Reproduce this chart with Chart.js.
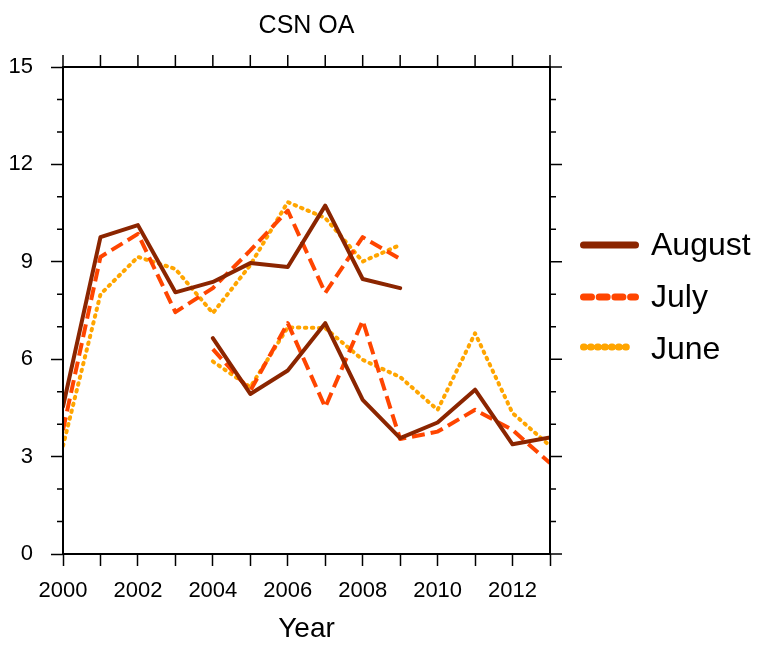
<!DOCTYPE html>
<html>
<head>
<meta charset="utf-8">
<script src="https://cdn.jsdelivr.net/npm/chart.js@4.4.1/dist/chart.umd.min.js"></script>
<style>
  html, body { margin: 0; padding: 0; background: #fff; }
  #wrap { position: relative; width: 764px; height: 645px; }
  #legend { position: absolute; left: 0; top: 0; }
  #legend text { font-family: "Liberation Sans", Arial, Helvetica, sans-serif; font-size: 32px; fill: #000; }
</style>
</head>
<body>
<div id="wrap">
  <canvas id="chart" width="764" height="645"></canvas>
  <svg id="legend" width="764" height="645">
    <line x1="583.5" y1="245" x2="635.5" y2="245" stroke="#8B2500" stroke-width="7" stroke-linecap="round"/>
    <text x="651" y="255">August</text>
    <line x1="583.5" y1="297" x2="635.5" y2="297" stroke="#FF4500" stroke-width="7" stroke-linecap="round" stroke-dasharray="8 7.7"/>
    <text x="651" y="307">July</text>
    <line x1="583.5" y1="347" x2="630.5" y2="347" stroke="#FFA500" stroke-width="7" stroke-linecap="round" stroke-dasharray="0.8 6.2"/>
    <text x="651" y="359">June</text>
  </svg>
</div>
<script>
// values
var years1 = [2000, 2001, 2002, 2003, 2004, 2005, 2006, 2007, 2008, 2009];
var years2 = [2004, 2005, 2006, 2007, 2008, 2009, 2010, 2011, 2012, 2013];

var august1 = [4.54, 9.76, 10.13, 8.06, 8.38, 8.96, 8.84, 10.73, 8.47, 8.19];
var july1   = [3.82, 9.15, 9.86, 7.45, 8.19, 9.35, 10.58, 8.04, 9.76, 9.09];
var june1   = [3.33, 8.0, 9.15, 8.78, 7.42, 8.9, 10.84, 10.35, 9.01, 9.52];

var august2 = [6.65, 4.93, 5.65, 7.11, 4.75, 3.57, 4.05, 5.06, 3.38, 3.59];
var july2   = [6.31, 5.03, 7.11, 4.52, 7.19, 3.54, 3.77, 4.44, 3.82, 2.8];
var june2   = [5.93, 5.14, 6.98, 6.96, 5.98, 5.45, 4.44, 6.8, 4.34, 3.33];

var yearTicks = [2000, 2001, 2002, 2003, 2004, 2005, 2006, 2007, 2008, 2009, 2010, 2011, 2012, 2013];

function pts(xs, ys) {
    return xs.map(function (x, i) { return { x: x, y: ys[i] }; });
}

var styles = {
    August: { color: '#8B2500', dash: [], cap: 'round' },
    July:   { color: '#FF4500', dash: [13, 6], cap: 'butt' },
    June:   { color: '#FFA500', dash: [1.5, 5.5], cap: 'round' }
};

function line(name, xs, ys) {
    var s = styles[name];
    return {
        label: name,
        data: pts(xs, ys),
        borderColor: s.color,
        backgroundColor: s.color,
        borderWidth: 4,
        borderDash: s.dash,
        borderCapStyle: s.cap,
        borderJoinStyle: 'round',
        pointRadius: 0,
        tension: 0,
        fill: false
    };
}

Chart.defaults.font.family = '"Liberation Sans", Arial, Helvetica, sans-serif';
Chart.defaults.color = '#000';

// top / right frame and the mirrored + minor ticks
var frame = {
    id: 'frame',
    afterDraw: function (chart) {
        var ctx = chart.ctx, a = chart.chartArea;
        var x = chart.scales.x, y = chart.scales.y;
        ctx.save();
        ctx.strokeStyle = '#000';
        ctx.lineWidth = 1.5;
        ctx.beginPath();
        yearTicks.forEach(function (yr) {
            var px = x.getPixelForValue(yr);
            ctx.moveTo(px, a.top);
            ctx.lineTo(px, a.top - 12);
        });
        for (var v = 0; v <= 15; v++) {
            var py = y.getPixelForValue(v);
            var len = v % 3 ? 6 : 12;
            ctx.moveTo(a.right, py);
            ctx.lineTo(a.right + len, py);
            if (v % 3) {
                ctx.moveTo(a.left, py);
                ctx.lineTo(a.left - len, py);
            }
        }
        ctx.stroke();
        ctx.lineWidth = 2;
        ctx.strokeRect(a.left, a.top, a.right - a.left, a.bottom - a.top);
        ctx.restore();
    }
};

new Chart(document.getElementById('chart'), {
    type: 'line',
    data: {
        datasets: [
            line('August', years1, august1),
            line('August', years2, august2),
            line('July', years1, july1),
            line('July', years2, july2),
            line('June', years1, june1),
            line('June', years2, june2)
        ]
    },
    options: {
        responsive: false,
        devicePixelRatio: 1,
        animation: false,
        layout: { padding: { left: 0, right: 214, top: 0, bottom: 0 } },
        plugins: {
            legend: { display: false },
            tooltip: { enabled: false },
            title: {
                display: true,
                text: 'CSN OA',
                fullSize: false,
                color: '#000',
                font: { size: 25, weight: 'normal', lineHeight: 1.2 },
                padding: { top: 11.2, bottom: 25.8 }
            }
        },
        scales: {
            x: {
                type: 'linear',
                min: 2000,
                max: 2013,
                afterFit: function (s) { s.height = 91; },
                afterBuildTicks: function (s) {
                    s.ticks = yearTicks.map(function (v) { return { value: v }; });
                },
                ticks: {
                    autoSkip: false,
                    maxRotation: 0,
                    padding: 11.8,
                    font: { size: 22 },
                    callback: function (v) { return v % 2 === 0 ? String(v) : ''; }
                },
                grid: {
                    display: true,
                    drawOnChartArea: false,
                    drawTicks: true,
                    tickLength: 12,
                    tickColor: '#000',
                    tickWidth: 1.5
                },
                border: { display: false },
                title: {
                    display: true,
                    text: 'Year',
                    color: '#000',
                    font: { size: 28, lineHeight: 1 },
                    padding: { top: 0, bottom: 1.5 }
                }
            },
            y: {
                min: 0,
                max: 15,
                afterFit: function (s) { s.width = 63; },
                ticks: {
                    stepSize: 1,
                    autoSkip: false,
                    padding: 18,
                    font: { size: 22 },
                    callback: function (v) { return v % 3 === 0 ? String(v) : ''; }
                },
                grid: {
                    display: true,
                    drawOnChartArea: false,
                    drawTicks: true,
                    tickLength: 12,
                    tickWidth: 1.5,
                    tickColor: function (c) {
                        return c.tick && c.tick.value % 3 === 0 ? '#000' : 'rgba(0,0,0,0)';
                    }
                },
                border: { display: false }
            }
        }
    },
    plugins: [frame]
});
</script>
</body>
</html>
